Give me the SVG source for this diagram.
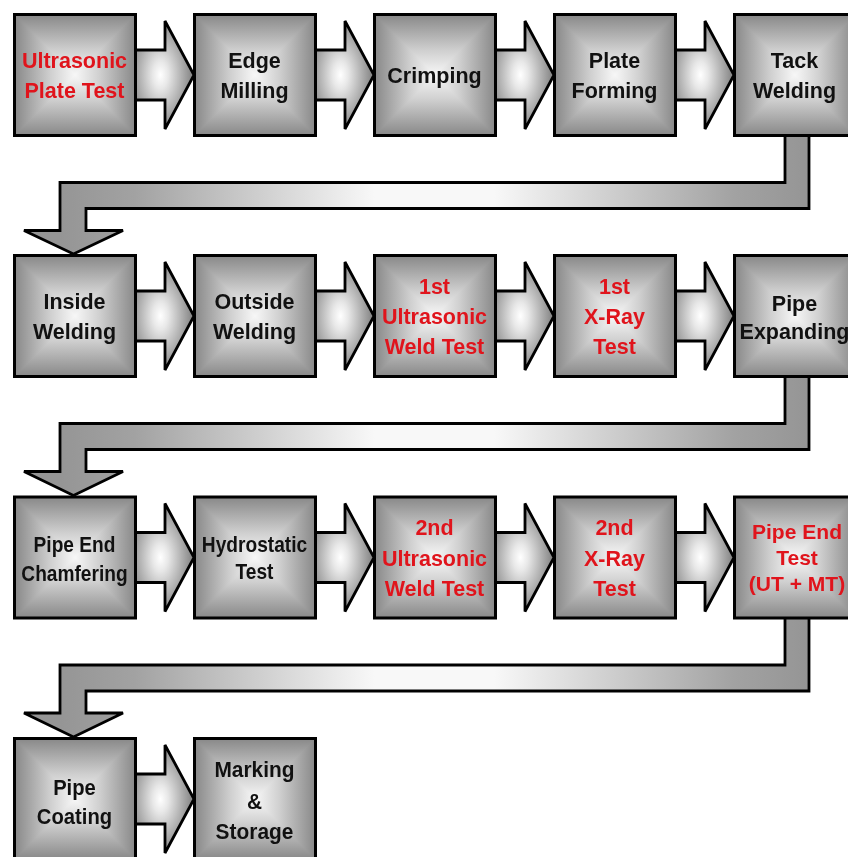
<svg xmlns="http://www.w3.org/2000/svg" width="848" height="857" viewBox="0 0 848 857">
<style>
.bg{fill:url(#gH)}
.bv{fill:url(#gV);mix-blend-mode:darken}
.bs{fill:none;stroke:#000;stroke-width:3}
.arr{fill:url(#gA);stroke:#000;stroke-width:2.8;stroke-linejoin:miter}
.con{fill:url(#gC);stroke:#000;stroke-width:2.8;stroke-linejoin:miter}
text{font-family:"Liberation Sans",Arial,sans-serif;font-weight:bold;font-size:21.5px;text-anchor:middle;fill:#111}
.r{fill:#e0141c}
</style>
<defs>
<linearGradient id="gH" x1="0" y1="0" x2="1" y2="0">
<stop offset="0" stop-color="#888888"/><stop offset="0.3" stop-color="#d0d0d0"/><stop offset="0.5" stop-color="#f7f7f7"/><stop offset="0.7" stop-color="#d0d0d0"/><stop offset="1" stop-color="#888888"/>
</linearGradient>
<linearGradient id="gV" x1="0" y1="0" x2="0" y2="1">
<stop offset="0" stop-color="#888888"/><stop offset="0.3" stop-color="#d0d0d0"/><stop offset="0.5" stop-color="#f7f7f7"/><stop offset="0.7" stop-color="#d0d0d0"/><stop offset="1" stop-color="#888888"/>
</linearGradient>
<radialGradient id="gA" cx="0.45" cy="0.5" r="0.5">
<stop offset="0" stop-color="#ffffff"/><stop offset="0.25" stop-color="#e8e8e8"/><stop offset="1" stop-color="#8a8a8a"/>
</radialGradient>
<linearGradient id="gC" gradientUnits="userSpaceOnUse" x1="60" y1="0" x2="809" y2="0">
<stop offset="0" stop-color="#959595"/><stop offset="0.1" stop-color="#a2a2a2"/><stop offset="0.42" stop-color="#f8f8f8"/><stop offset="0.58" stop-color="#f8f8f8"/><stop offset="0.9" stop-color="#a2a2a2"/><stop offset="1" stop-color="#959595"/>
</linearGradient>
</defs>
<g id="connectors">
<polygon class="arr" points="133,50 165,50 165,21 194,75 165,129 165,100 133,100"/>
<polygon class="arr" points="313,50 345,50 345,21 374,75 345,129 345,100 313,100"/>
<polygon class="arr" points="493,50 525,50 525,21 554,75 525,129 525,100 493,100"/>
<polygon class="arr" points="673,50 705,50 705,21 734,75 705,129 705,100 673,100"/>
<polygon class="arr" points="133,291 165,291 165,262 194,316 165,370 165,341 133,341"/>
<polygon class="arr" points="313,291 345,291 345,262 374,316 345,370 345,341 313,341"/>
<polygon class="arr" points="493,291 525,291 525,262 554,316 525,370 525,341 493,341"/>
<polygon class="arr" points="673,291 705,291 705,262 734,316 705,370 705,341 673,341"/>
<polygon class="arr" points="133,532.5 165,532.5 165,503.5 194,557.5 165,611.5 165,582.5 133,582.5"/>
<polygon class="arr" points="313,532.5 345,532.5 345,503.5 374,557.5 345,611.5 345,582.5 313,582.5"/>
<polygon class="arr" points="493,532.5 525,532.5 525,503.5 554,557.5 525,611.5 525,582.5 493,582.5"/>
<polygon class="arr" points="673,532.5 705,532.5 705,503.5 734,557.5 705,611.5 705,582.5 673,582.5"/>
<polygon class="arr" points="133,774 165,774 165,745 194,799 165,853 165,824 133,824"/>
<polygon class="con" points="785,134 809,134 809,208.5 86,208.5 86,230.5 123,230.5 73.5,254 24,230.5 60,230.5 60,182.5 785,182.5"/>
<polygon class="con" points="785,375 809,375 809,449.5 86,449.5 86,471.5 123,471.5 73.5,495.5 24,471.5 60,471.5 60,423.5 785,423.5"/>
<polygon class="con" points="785,617 809,617 809,691 86,691 86,713 123,713 73.5,737 24,713 60,713 60,665 785,665"/>
</g>
<g id="n1"><rect class="bg" x="14.5" y="14.5" width="121" height="121"/><rect class="bv" x="14.5" y="14.5" width="121" height="121"/><rect class="bs" x="14.5" y="14.5" width="121" height="121"/>
<text class="r" x="74.5" y="67.5">Ultrasonic</text><text class="r" x="74.5" y="98">Plate Test</text></g>
<g id="n2"><rect class="bg" x="194.5" y="14.5" width="121" height="121"/><rect class="bv" x="194.5" y="14.5" width="121" height="121"/><rect class="bs" x="194.5" y="14.5" width="121" height="121"/>
<text x="254.5" y="67.5">Edge</text><text x="254.5" y="98">Milling</text></g>
<g id="n3"><rect class="bg" x="374.5" y="14.5" width="121" height="121"/><rect class="bv" x="374.5" y="14.5" width="121" height="121"/><rect class="bs" x="374.5" y="14.5" width="121" height="121"/>
<text x="434.5" y="82.5">Crimping</text></g>
<g id="n4"><rect class="bg" x="554.5" y="14.5" width="121" height="121"/><rect class="bv" x="554.5" y="14.5" width="121" height="121"/><rect class="bs" x="554.5" y="14.5" width="121" height="121"/>
<text x="614.5" y="67.5">Plate</text><text x="614.5" y="98">Forming</text></g>
<g id="n5"><rect class="bg" x="734.5" y="14.5" width="121" height="121"/><rect class="bv" x="734.5" y="14.5" width="121" height="121"/><rect class="bs" x="734.5" y="14.5" width="121" height="121"/>
<text x="794.5" y="67.5">Tack</text><text x="794.5" y="98">Welding</text></g>
<g id="n6"><rect class="bg" x="14.5" y="255.5" width="121" height="121"/><rect class="bv" x="14.5" y="255.5" width="121" height="121"/><rect class="bs" x="14.5" y="255.5" width="121" height="121"/>
<text x="74.5" y="309">Inside</text><text x="74.5" y="339">Welding</text></g>
<g id="n7"><rect class="bg" x="194.5" y="255.5" width="121" height="121"/><rect class="bv" x="194.5" y="255.5" width="121" height="121"/><rect class="bs" x="194.5" y="255.5" width="121" height="121"/>
<text x="254.5" y="309">Outside</text><text x="254.5" y="339">Welding</text></g>
<g id="n8"><rect class="bg" x="374.5" y="255.5" width="121" height="121"/><rect class="bv" x="374.5" y="255.5" width="121" height="121"/><rect class="bs" x="374.5" y="255.5" width="121" height="121"/>
<text class="r" x="434.5" y="293.5">1st</text><text class="r" x="434.5" y="324">Ultrasonic</text><text class="r" x="434.5" y="354">Weld Test</text></g>
<g id="n9"><rect class="bg" x="554.5" y="255.5" width="121" height="121"/><rect class="bv" x="554.5" y="255.5" width="121" height="121"/><rect class="bs" x="554.5" y="255.5" width="121" height="121"/>
<text class="r" x="614.5" y="293.5">1st</text><text class="r" x="614.5" y="324">X-Ray</text><text class="r" x="614.5" y="354">Test</text></g>
<g id="n10"><rect class="bg" x="734.5" y="255.5" width="121" height="121"/><rect class="bv" x="734.5" y="255.5" width="121" height="121"/><rect class="bs" x="734.5" y="255.5" width="121" height="121"/>
<text x="794.5" y="311">Pipe</text><text x="794.5" y="339">Expanding</text></g>
<g id="n11"><rect class="bg" x="14.5" y="497" width="121" height="121"/><rect class="bv" x="14.5" y="497" width="121" height="121"/><rect class="bs" x="14.5" y="497" width="121" height="121"/>
<text x="74.5" y="552" transform="translate(74.5 0) scale(0.89 1) translate(-74.5 0)">Pipe End</text><text x="74.5" y="581" transform="translate(74.5 0) scale(0.89 1) translate(-74.5 0)">Chamfering</text></g>
<g id="n12"><rect class="bg" x="194.5" y="497" width="121" height="121"/><rect class="bv" x="194.5" y="497" width="121" height="121"/><rect class="bs" x="194.5" y="497" width="121" height="121"/>
<text x="254.5" y="552" transform="translate(254.5 0) scale(0.89 1) translate(-254.5 0)">Hydrostatic</text><text x="254.5" y="579" transform="translate(254.5 0) scale(0.89 1) translate(-254.5 0)">Test</text></g>
<g id="n13"><rect class="bg" x="374.5" y="497" width="121" height="121"/><rect class="bv" x="374.5" y="497" width="121" height="121"/><rect class="bs" x="374.5" y="497" width="121" height="121"/>
<text class="r" x="434.5" y="535">2nd</text><text class="r" x="434.5" y="565.5">Ultrasonic</text><text class="r" x="434.5" y="595.5">Weld Test</text></g>
<g id="n14"><rect class="bg" x="554.5" y="497" width="121" height="121"/><rect class="bv" x="554.5" y="497" width="121" height="121"/><rect class="bs" x="554.5" y="497" width="121" height="121"/>
<text class="r" x="614.5" y="535">2nd</text><text class="r" x="614.5" y="565.5">X-Ray</text><text class="r" x="614.5" y="595.5">Test</text></g>
<g id="n15"><rect class="bg" x="734.5" y="497" width="121" height="121"/><rect class="bv" x="734.5" y="497" width="121" height="121"/><rect class="bs" x="734.5" y="497" width="121" height="121"/>
<g transform="translate(797 0) scale(1.08 1) translate(-797 0)"><text class="r" x="797" y="539" style="font-size:19.5px">Pipe End</text><text class="r" x="797" y="565" style="font-size:19.5px">Test</text><text class="r" x="797" y="591" style="font-size:19.5px">(UT + MT)</text></g></g>
<g id="n16"><rect class="bg" x="14.5" y="738.5" width="121" height="121"/><rect class="bv" x="14.5" y="738.5" width="121" height="121"/><rect class="bs" x="14.5" y="738.5" width="121" height="121"/>
<g transform="translate(74.5 0) scale(0.92 1) translate(-74.5 0)"><text x="74.5" y="795" style="font-size:22px">Pipe</text><text x="74.5" y="824" style="font-size:22px">Coating</text></g></g>
<g id="n17"><rect class="bg" x="194.5" y="738.5" width="121" height="121"/><rect class="bv" x="194.5" y="738.5" width="121" height="121"/><rect class="bs" x="194.5" y="738.5" width="121" height="121"/>
<g transform="translate(254.5 0) scale(0.95 1) translate(-254.5 0)"><text x="254.5" y="777" style="font-size:22px">Marking</text><text x="254.5" y="809" style="font-size:22px">&amp;</text><text x="254.5" y="839" style="font-size:22px">Storage</text></g></g>
</svg>
